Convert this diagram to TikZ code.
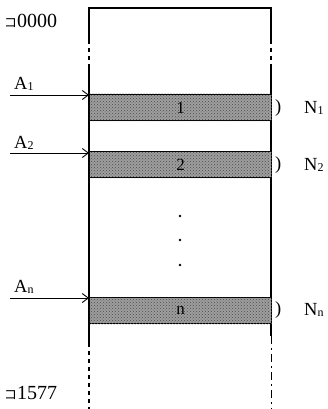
\documentclass[tikz,border=0pt]{standalone}
\usepackage{fontspec}
\setmainfont{Liberation Serif}
\newfontfamily\cjk{Noto Sans CJK JP}
\usetikzlibrary{patterns,arrows.meta}
\newcommand{\smallidx}[1]{\raisebox{-1pt}{\fontsize{12}{12}\selectfont #1}}
\begin{document}
\begin{tikzpicture}[x=1pt,y=-1pt,
  band/.style={draw=black, line width=1.4pt, fill=black!38, minimum width=182pt, minimum height=26pt, inner sep=0pt, anchor=north west},
  lbl/.style={font=\fontsize{18.5}{18.5}\selectfont, inner sep=0pt},
  bandlbl/.style={font=\fontsize{17}{17}\selectfont, inner sep=0pt},
  addr/.style={font=\fontsize{20}{20}\selectfont, inner sep=0pt, anchor=west},
  wall/.style={line width=1.1pt},
  gap/.style={line width=1.1pt, dash pattern=on 4pt off 4pt},
  arr/.style={line width=0.9pt, -{Straight Barb[length=6pt,width=9pt,line width=0.9pt]}}]
\useasboundingbox (0,0) rectangle (328,409);
% walls
\draw[wall] (89,40) -- (89,8) -- (271,8) -- (271,40);
\draw[gap] (89,40) -- (89,66);
\draw[gap] (271,40) -- (271,66);
\draw[wall] (89,66) -- (89,343);
\draw[wall] (271,66) -- (271,336);
\draw[gap] (89,343) -- (89,409);
\draw[line width=1pt, dash pattern=on 8pt off 4pt on 2pt off 4pt] (271,336) -- (271,409);
% bands
\node[band] (b1) at (89,94) {};
\node[band] (b2) at (89,151) {};
\node[band] (bn) at (89,297) {};
\fill[pattern=crosshatch dots, pattern color=black!70] (b1.north west) rectangle (b1.south east);
\fill[pattern=crosshatch dots, pattern color=black!70] (b2.north west) rectangle (b2.south east);
\fill[pattern=crosshatch dots, pattern color=black!70] (bn.north west) rectangle (bn.south east);
\node[bandlbl] (t1) at (b1.center) {1};
\node[bandlbl] (t2) at (b2.center) {2};
\node[bandlbl] (tn) at (bn.center) {n};
% dots
\node[circle, fill=black, inner sep=0.9pt] (d1) at (180,216) {};
\node[circle, fill=black, inner sep=0.9pt] (d2) at (180,240) {};
\node[circle, fill=black, inner sep=0.9pt] (d3) at (180,265) {};
% arrows
\coordinate (s1) at (10,95);
\coordinate (s2) at (10,153);
\coordinate (sn) at (10,298);
\draw[arr] (s1) -- (b1.north west |- s1);
\draw[arr] (s2) -- (b2.north west |- s2);
\draw[arr] (sn) -- (bn.north west |- sn);
\node[lbl, anchor=base west] (a1) at (14,90) {A\smallidx{1}};
\node[lbl, anchor=base west] (a2) at (14,148) {A\smallidx{2}};
\node[lbl, anchor=base west] (an) at (14,292) {A\smallidx{n}};
% right labels
\node[lbl, anchor=west] (p1) at (275,108) {)};
\node[lbl, anchor=west] (p2) at (275,165) {)};
\node[lbl, anchor=west] (pn) at (275,310) {)};
\node[lbl, anchor=west] (n1) at (304,108) {N\smallidx{1}};
\node[lbl, anchor=west] (n2) at (304,165) {N\smallidx{2}};
\node[lbl, anchor=west] (nn) at (304,310) {N\smallidx{n}};
% addresses
\node[addr] (top) at (4,21) {{\cjk\fontsize{13}{13}\selectfont コ}0000};
\node[addr] (bot) at (4,393) {{\cjk\fontsize{13}{13}\selectfont コ}1577};
\end{tikzpicture}
\end{document}
